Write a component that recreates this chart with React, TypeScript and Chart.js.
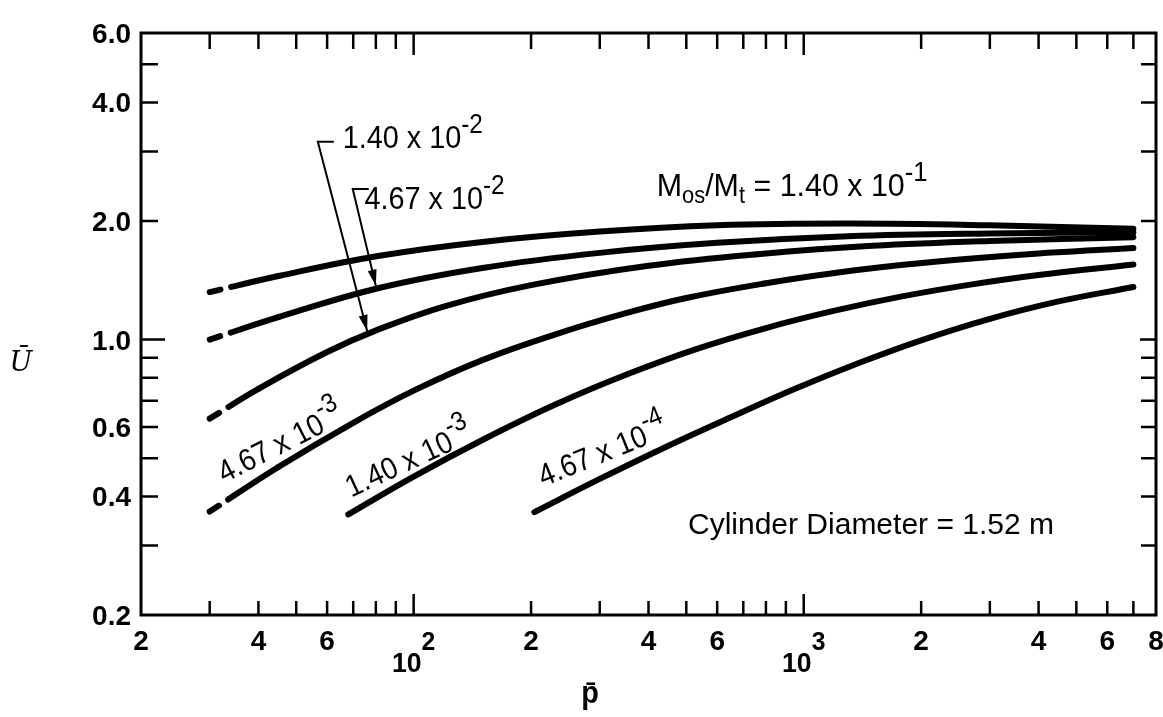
import React, { useEffect, useRef } from "react";
import { Chart, registerables } from "chart.js";

Chart.register(...registerables);

// ---------- data (p̄ on x, Ū on y; log-log) ----------
const seriesLabels = ["1.40 x 10^-1", "4.67 x 10^-2", "1.40 x 10^-2", "4.67 x 10^-3", "1.40 x 10^-3", "4.67 x 10^-4"];

const xA = [30, 45, 81, 150, 300, 600, 1300, 3000, 7000];
const yA = [1.32, 1.45, 1.63, 1.77, 1.88, 1.95, 1.97, 1.95, 1.91];

const xB = [30, 45, 81, 150, 300, 600, 1300, 3000, 7000];
const yB = [1.0, 1.14, 1.35, 1.52, 1.66, 1.76, 1.83, 1.86, 1.87];

const xC = [30, 40, 60, 81, 120, 200, 400, 800, 1500, 3000, 7000];
const yC = [0.63, 0.75, 0.93, 1.06, 1.215, 1.375, 1.54, 1.655, 1.73, 1.78, 1.82];

const xD = [30, 45, 70, 100, 150, 230, 350, 500, 800, 1200, 1800, 2600, 4000, 5800, 7000];
const yD = [0.366, 0.475, 0.615, 0.742, 0.887, 1.03, 1.167, 1.275, 1.39, 1.476, 1.548, 1.602, 1.655, 1.69, 1.707];

const xE = [68, 100, 150, 230, 350, 530, 800, 1200, 1800, 2700, 4000, 7000];
const yE = [0.36, 0.449, 0.556, 0.683, 0.814, 0.946, 1.07, 1.184, 1.289, 1.381, 1.459, 1.551];

const xF = [204, 300, 450, 650, 950, 1400, 2000, 3000, 4500, 7000];
const yF = [0.365, 0.443, 0.538, 0.635, 0.75, 0.876, 0.996, 1.129, 1.25, 1.36];

const seriesX = [xA, xB, xC, xD, xE, xF];
const seriesY = [yA, yB, yC, yD, yE, yF];
const seriesBreak = [true, true, true, true, false, false];

// axis ticks
const X_MIN = 20;
const X_MAX = 8000;
const Y_MIN = 0.2;
const Y_MAX = 6;
const xMinorTicks = [30, 40, 50, 60, 70, 80, 90, 200, 300, 400, 500, 600, 700, 800, 900, 2000, 3000, 4000, 5000, 6000, 7000];
const xMajorTicks = [100, 1000];
const xLabelValues = [20, 40, 60, 200, 400, 600, 2000, 4000, 6000, 8000];
const xLabelTexts = ["2", "4", "6", "2", "4", "6", "2", "4", "6", "8"];
const xPowerValues = [100, 1000];
const xPowerExps = ["2", "3"];
const yMinorTicks = [5, 4, 3, 2, 0.9, 0.8, 0.7, 0.6, 0.5, 0.4, 0.3];
const yMajorTicks = [1];
const yLabelValues = [6, 4, 2, 1, 0.6, 0.4, 0.2];
const yLabelTexts = ["6.0", "4.0", "2.0", "1.0", "0.6", "0.4", "0.2"];

// annotation texts and anchors (in data units)
const noteTexts = ["1.40 x 10", "4.67 x 10", "4.67 x 10", "1.40 x 10", "4.67 x 10"];
const noteExps = ["-2", "-2", "-3", "-3", "-4"];
const noteX = [65.8, 74.8, 32.7, 69.2, 215];
const noteY = [3.06, 2.14, 0.432, 0.397, 0.423];
const noteAngle = [0, 0, -27, -25, -22];

const arrowCornerX = [56.8, 69.8];
const arrowCornerY = [3.18, 2.41];
const arrowTipX = [76, 80];
const arrowTipY = [1.052, 1.37];

const ratioLabelX = 420;
const ratioLabelY = 2.32;
const diameterText = "Cylinder Diameter = 1.52 m";
const diameterX = 505;
const diameterY = 0.321;

const SANS = "'Liberation Sans', Arial, sans-serif";
const SERIF = "'DejaVu Serif', 'Liberation Serif', serif";

type Run = { t: string; size: number; dy?: number; family?: string; weight?: string; style?: string };

function drawRuns(
  ctx: CanvasRenderingContext2D,
  runs: Run[],
  x: number,
  y: number,
  opts: { angle?: number; scaleX?: number; align?: "left" | "center" | "right" } = {}
) {
  ctx.save();
  ctx.translate(x, y);
  if (opts.angle) ctx.rotate((opts.angle * Math.PI) / 180);
  ctx.scale(opts.scaleX ?? 1, 1);
  ctx.textAlign = "left";
  ctx.textBaseline = "alphabetic";
  ctx.fillStyle = "#000";
  const fontOf = (r: Run) => `${r.style ?? "normal"} ${r.weight ?? "normal"} ${r.size}px ${r.family ?? SANS}`;
  let total = 0;
  const widths = runs.map((r) => {
    ctx.font = fontOf(r);
    const w = ctx.measureText(r.t).width;
    total += w;
    return w;
  });
  let cx = opts.align === "center" ? -total / 2 : opts.align === "right" ? -total : 0;
  runs.forEach((r, i) => {
    ctx.font = fontOf(r);
    ctx.fillText(r.t, cx, r.dy ?? 0);
    cx += widths[i];
  });
  ctx.restore();
}

const framePlugin = {
  id: "framePlugin",
  beforeDraw(chart: any) {
    const ctx: CanvasRenderingContext2D = chart.ctx;
    ctx.save();
    ctx.fillStyle = "#fff";
    ctx.fillRect(0, 0, chart.width, chart.height);
    ctx.restore();
  },
  afterDatasetsDraw(chart: any) {
    const ctx: CanvasRenderingContext2D = chart.ctx;
    const xs = chart.scales.x;
    const ys = chart.scales.y;
    const { left, right, top, bottom } = chart.chartArea;
    ctx.save();
    ctx.strokeStyle = "#000";
    ctx.lineCap = "butt";
    // frame
    ctx.lineWidth = 3;
    ctx.strokeRect(left, top, right - left, bottom - top);
    // ticks
    ctx.lineWidth = 2.5;
    const vTick = (v: number, len: number, lenTop: number) => {
      const px = xs.getPixelForValue(v);
      ctx.beginPath();
      ctx.moveTo(px, bottom);
      ctx.lineTo(px, bottom - len);
      ctx.moveTo(px, top);
      ctx.lineTo(px, top + lenTop);
      ctx.stroke();
    };
    xMinorTicks.forEach((v) => vTick(v, 14, 16));
    xMajorTicks.forEach((v) => vTick(v, 21, 22));
    const hTick = (v: number, len: number, lenR: number) => {
      const py = ys.getPixelForValue(v);
      ctx.beginPath();
      ctx.moveTo(left, py);
      ctx.lineTo(left + len, py);
      ctx.moveTo(right, py);
      ctx.lineTo(right - lenR, py);
      ctx.stroke();
    };
    yMinorTicks.forEach((v) => hTick(v, 17, 15));
    yMajorTicks.forEach((v) => hTick(v, 24, 16));

    // y labels
    yLabelValues.forEach((v, i) => {
      const py = ys.getPixelForValue(v);
      drawRuns(ctx, [{ t: yLabelTexts[i], size: 28, weight: "bold" }], left - 10, py + 10, { align: "right" });
    });
    // x labels
    const xBase = bottom + 35;
    xLabelValues.forEach((v, i) => {
      drawRuns(ctx, [{ t: xLabelTexts[i], size: 28, weight: "bold" }], xs.getPixelForValue(v), xBase, { align: "center" });
    });
    xPowerValues.forEach((v, i) => {
      drawRuns(
        ctx,
        [
          { t: "10", size: 28, weight: "bold" },
          { t: xPowerExps[i], size: 26, weight: "bold", dy: -22 },
        ],
        xs.getPixelForValue(v),
        xBase + 22,
        { align: "center", scaleX: 0.95 }
      );
    });
    // axis titles
    drawRuns(ctx, [{ t: "p\u0304", size: 32, weight: "bold" }], 590, 703, { align: "center", scaleX: 0.9 });
    drawRuns(ctx, [{ t: "\u016A", size: 27, family: SERIF, style: "italic" }], 21, 371, { align: "center" });

    // curve labels
    noteTexts.forEach((t, i) => {
      const rot = noteAngle[i] !== 0;
      drawRuns(
        ctx,
        [
          { t, size: rot ? 31 : 32 },
          { t: noteExps[i], size: 27, dy: -15 },
        ],
        xs.getPixelForValue(noteX[i]),
        ys.getPixelForValue(noteY[i]),
        { angle: noteAngle[i], scaleX: 0.9 }
      );
    });
    // ratio label
    drawRuns(
      ctx,
      [
        { t: "M", size: 32 },
        { t: "os", size: 23, dy: 7 },
        { t: "/M", size: 32 },
        { t: "t", size: 23, dy: 7 },
        { t: " = 1.40 x 10", size: 32 },
        { t: "-1", size: 27, dy: -15 },
      ],
      xs.getPixelForValue(ratioLabelX),
      ys.getPixelForValue(ratioLabelY),
      { scaleX: 0.95 }
    );
    // diameter note
    drawRuns(ctx, [{ t: diameterText, size: 30 }], xs.getPixelForValue(diameterX), ys.getPixelForValue(diameterY), {});

    // leader arrows
    ctx.lineWidth = 2;
    ctx.fillStyle = "#000";
    arrowCornerX.forEach((cxv, i) => {
      const cx = xs.getPixelForValue(cxv);
      const cy = ys.getPixelForValue(arrowCornerY[i]);
      const tx = xs.getPixelForValue(arrowTipX[i]);
      const ty = ys.getPixelForValue(arrowTipY[i]);
      ctx.beginPath();
      ctx.moveTo(cx + 16, cy);
      ctx.lineTo(cx, cy);
      ctx.lineTo(tx, ty);
      ctx.stroke();
      const ang = Math.atan2(ty - cy, tx - cx);
      const L = 16;
      const Wd = 4.5;
      ctx.beginPath();
      ctx.moveTo(tx, ty);
      ctx.lineTo(tx - L * Math.cos(ang) + Wd * Math.sin(ang), ty - L * Math.sin(ang) - Wd * Math.cos(ang));
      ctx.lineTo(tx - L * Math.cos(ang) - Wd * Math.sin(ang), ty - L * Math.sin(ang) + Wd * Math.cos(ang));
      ctx.closePath();
      ctx.fill();
    });
    ctx.restore();
  },
};

export default function App() {
  const ref = useRef<HTMLCanvasElement | null>(null);
  useEffect(() => {
    if (!ref.current) return;
    const datasets = seriesX.map((xsArr, k) => ({
      label: seriesLabels[k],
      data: xsArr.map((x, i) => ({ x, y: seriesY[k][i] })),
      borderColor: "#000",
      backgroundColor: "#000",
      borderWidth: 6,
      borderCapStyle: "round" as const,
      borderJoinStyle: "round" as const,
      pointRadius: 0,
      fill: false,
      tension: 0.4,
      segment: seriesBreak[k]
        ? { borderDash: (c: any) => (c.p0DataIndex === 0 ? [11, 11, 4000] : undefined) }
        : undefined,
    }));
    const chart = new Chart(ref.current, {
      type: "line",
      data: { datasets },
      options: {
        animation: false,
        responsive: false,
        maintainAspectRatio: false,
        layout: { padding: { left: 141, right: 7, top: 33, bottom: 102 } },
        plugins: { legend: { display: false }, tooltip: { enabled: false } },
        scales: {
          x: { type: "logarithmic", min: X_MIN, max: X_MAX, display: false },
          y: { type: "logarithmic", min: Y_MIN, max: Y_MAX, display: false },
        },
      },
      plugins: [framePlugin],
    } as any);
    return () => chart.destroy();
  }, []);
  return (
    <div style={{ position: "fixed", left: 0, top: 0, width: 1163, height: 717, background: "#fff" }}>
      <canvas ref={ref} width={1163} height={717} style={{ width: 1163, height: 717, display: "block" }} />
    </div>
  );
}
